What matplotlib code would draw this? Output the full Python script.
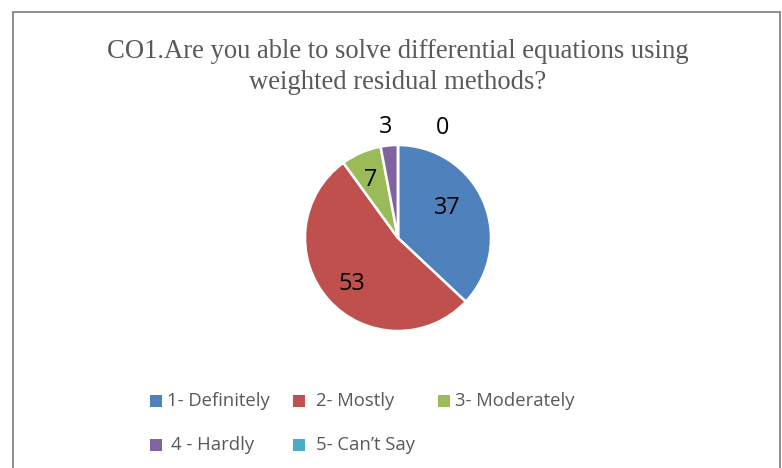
import matplotlib.pyplot as plt
import numpy as np
from matplotlib.patches import Rectangle

# data
categories = ['1- Definitely', '2- Mostly', '3- Moderately', '4 - Hardly', "5- Can\u2019t Say"]
values = [37, 53, 7, 3, 0]
colors = ['#4F81BD', '#C0504D', '#9BBB59', '#8064A2', '#4BACC6']
title = 'CO1.Are you able to solve differential equations using\nweighted residual methods?'

W, H = 782, 468
fig = plt.figure(figsize=(W / 100, H / 100), dpi=100)
ax = fig.add_axes([0, 0, 1, 1])

def py(y):
    # pixel row from top -> data y
    return H - y

# pie
cx, cy, r = 398, py(238), 93
wedges, _ = ax.pie(values, colors=colors, startangle=90, counterclock=False,
                   center=(cx, cy), radius=r, frame=True,
                   wedgeprops=dict(edgecolor='white', linewidth=1.8))
ax.set_xlim(0, W)
ax.set_ylim(0, H)
ax.set_aspect('equal')
ax.axis('off')

# frame around chart
ax.add_patch(Rectangle((13, py(480)), 767, 468, fill=False, ec='#868686', lw=1.3))

# title
ax.text(398, py(67), title, ha='center', va='center', fontsize=19.2,
        family='Liberation Serif', color='#595959', linespacing=1.36)

# data labels: (radius fraction, angle shift in degrees)
label_pos = [(0.62, 8), (0.70, 3), (0.69, 2), (1.20, 1), (1.28, -22)]
for w, v, (rf, da) in zip(wedges, values, label_pos):
    ang = np.deg2rad((w.theta1 + w.theta2) / 2 + da)
    ax.text(cx + rf * r * np.cos(ang), cy + rf * r * np.sin(ang), str(v),
            ha='center', va='center', fontsize=16.8, family='Open Sans', color='#000000')

# legend (manual, Excel-like layout)
leg_pos = [(150, 401), (293, 401), (438, 401), (150, 445), (293, 445)]
text_x = [167, 316, 455, 171, 316]
for (mx, my), tx, lab, c in zip(leg_pos, text_x, categories, colors):
    ax.add_patch(Rectangle((mx, py(my) - 6), 12, 12, color=c, lw=0))
    ax.text(tx, py(my), lab, ha='left', va='center', fontsize=13.3,
            family='Open Sans', color='#595959')

fig.savefig('out.png', dpi=100)
